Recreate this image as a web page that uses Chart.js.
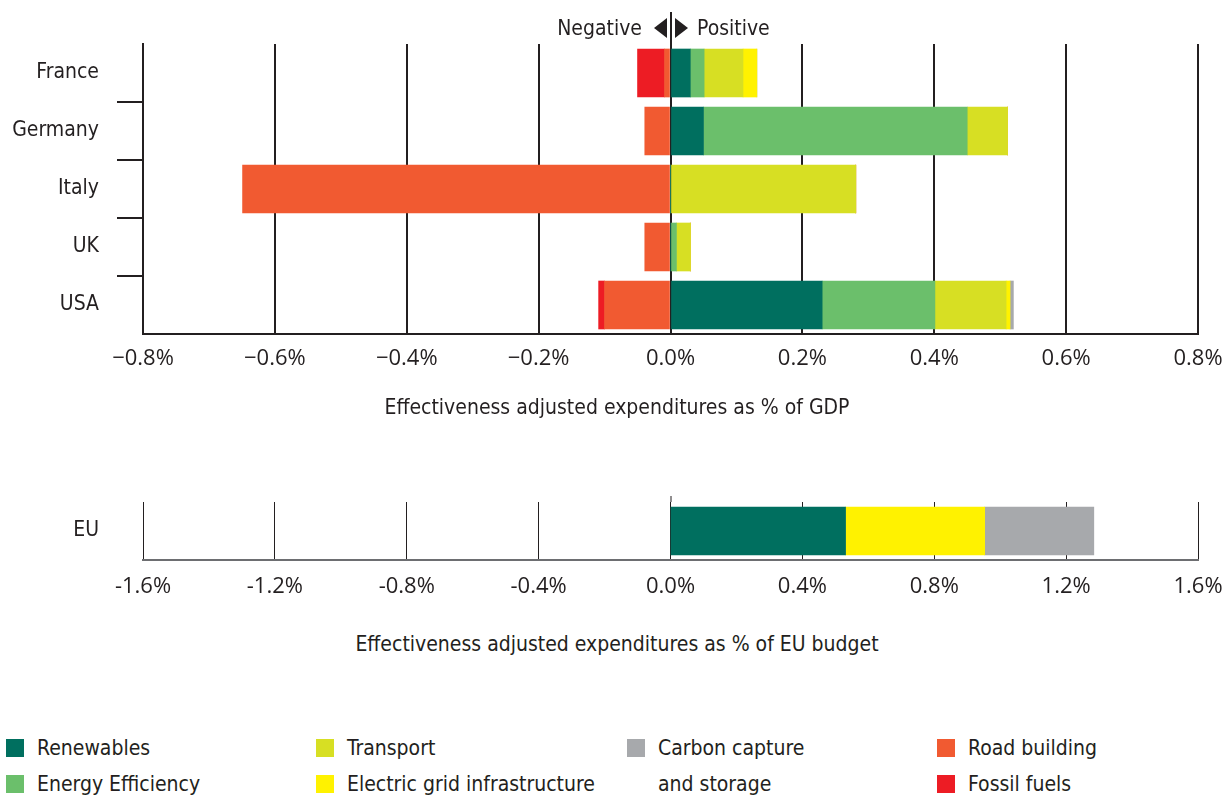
<!DOCTYPE html>
<html>
<head>
<meta charset="utf-8">
<script src="https://cdn.jsdelivr.net/npm/chart.js@4.4.0/dist/chart.umd.min.js"></script>
<style>
  body { margin: 0; width: 1224px; height: 796px; overflow: hidden; background: #fff; position: relative;
         font-family: "DejaVu Sans Condensed", "Liberation Sans Narrow", sans-serif; color: #231f20; }
  canvas { position: absolute; left: 0; }
  #topChart { top: 0; }
  #euChart { top: 470px; }
  .txt { position: absolute; font-size: 21px; white-space: nowrap; line-height: 24px; }
  .title { left: 0; width: 1234px; text-align: center; }
  .sw { position: absolute; width: 18px; height: 18px; }
</style>
</head>
<body>
<canvas id="topChart" width="1224" height="440"></canvas>
<canvas id="euChart" width="1224" height="160"></canvas>

<div class="txt" style="right:582px; top:16px;">Negative</div>
<div class="txt" style="left:697px; top:16px;">Positive</div>
<div class="txt title" style="top:395px;">Effectiveness adjusted expenditures as % of GDP</div>
<div class="txt title" style="top:632px;">Effectiveness adjusted expenditures as % of EU budget</div>

<div id="legend"></div>

<script>
// country chart (% of GDP)
const countries = ["France", "Germany", "Italy", "UK", "USA"];
const renewables = [0.030, 0.050, 0, 0, 0.230];
const efficiency = [0.021, 0.400, 0, 0.009, 0.171];
const transport = [0.059, 0.061, 0.281, 0.021, 0.108];
const gridInfra = [0.021, 0, 0, 0, 0.006];
const carbonCapture = [0, 0, 0, 0, 0.005];
const roadBuilding = [-0.009, -0.039, -0.649, -0.039, -0.100];
const fossilFuels = [-0.041, 0, 0, 0, -0.009];

// EU chart (% of EU budget)
const euLabels = ["EU"];
const euRenewables = [0.531];
const euGridInfra = [0.422];
const euCarbonCapture = [0.331];

const topTicks = { min: -0.8, max: 0.8, step: 0.2 };
const euTicks = { min: -1.6, max: 1.6, step: 0.4 };

const colors = {
  renewables: "#006f5f",
  efficiency: "#6bbf6b",
  transport: "#d7df23",
  grid: "#fff200",
  ccs: "#a7a9ac",
  road: "#f15a31",
  fossil: "#ed1c24",
};

const legendItems = [
  { text: "Renewables", color: colors.renewables, col: 0, row: 0 },
  { text: "Energy Efficiency", color: colors.efficiency, col: 0, row: 1 },
  { text: "Transport", color: colors.transport, col: 1, row: 0 },
  { text: "Electric grid infrastructure", color: colors.grid, col: 1, row: 1 },
  { text: "Carbon capture", color: colors.ccs, col: 2, row: 0 },
  { text: "and storage", color: null, col: 2, row: 1 },
  { text: "Road building", color: colors.road, col: 3, row: 0 },
  { text: "Fossil fuels", color: colors.fossil, col: 3, row: 1 },
];

const dark = "#231f20";
const labelFont = { family: "'DejaVu Sans Condensed', 'Liberation Sans Narrow', sans-serif", size: 21 };
const tickFont = { family: "'Open Sans', sans-serif", size: 22 };

// legend (html)
const legendEl = document.getElementById("legend");
const colX = [6, 316, 627, 937];
const rowY = [739, 775];
legendItems.forEach((it) => {
  if (it.color) {
    const sw = document.createElement("div");
    sw.className = "sw";
    sw.style.left = colX[it.col] + "px";
    sw.style.top = rowY[it.row] + "px";
    sw.style.background = it.color;
    legendEl.appendChild(sw);
  }
  const t = document.createElement("div");
  t.className = "txt";
  t.style.left = colX[it.col] + 31 + "px";
  t.style.top = rowY[it.row] - 3 + "px";
  t.textContent = it.text;
  legendEl.appendChild(t);
});

// zero line running up past the plot, with arrows in the top chart
const zeroLine = {
  id: "zeroLine",
  afterDraw(chart, args, opts) {
    const x = Math.round(chart.scales.x.getPixelForValue(0));
    const c = chart.ctx;
    c.save();
    c.strokeStyle = dark;
    c.lineWidth = opts.width;
    c.beginPath();
    c.moveTo(x, opts.from);
    c.lineTo(x, chart.chartArea.top);
    c.stroke();
    if (opts.arrows) {
      c.fillStyle = dark;
      c.beginPath();
      c.moveTo(x - 4, 18); c.lineTo(x - 4, 38); c.lineTo(x - 17, 28); c.closePath();
      c.fill();
      c.beginPath();
      c.moveTo(x + 4, 18); c.lineTo(x + 4, 38); c.lineTo(x + 17, 28); c.closePath();
      c.fill();
    }
    c.restore();
  },
};

function pct(minus) {
  return (v) => {
    const r = Math.round(v * 10) / 10;
    return (r < 0 ? minus : "") + Math.abs(r).toFixed(1) + "%";
  };
}

function bar(label, data, color) {
  return { label: label, data: data, backgroundColor: color, borderWidth: 0, barThickness: 48 };
}

function noPad(s) {
  s.paddingLeft = 0;
  s.paddingRight = 0;
  s.paddingTop = 0;
  s.paddingBottom = 0;
}

function buildTicks(t) {
  return (s) => {
    s.ticks = [];
    for (let v = t.min; v <= t.max + 1e-9; v += t.step) s.ticks.push({ value: Math.round(v * 10) / 10 });
  };
}

new Chart(document.getElementById("topChart"), {
  type: "bar",
  data: {
    labels: countries,
    datasets: [
      bar("Renewables", renewables, colors.renewables),
      bar("Energy Efficiency", efficiency, colors.efficiency),
      bar("Transport", transport, colors.transport),
      bar("Electric grid infrastructure", gridInfra, colors.grid),
      bar("Carbon capture and storage", carbonCapture, colors.ccs),
      bar("Road building", roadBuilding, colors.road),
      bar("Fossil fuels", fossilFuels, colors.fossil),
    ],
  },
  options: {
    indexAxis: "y",
    responsive: false,
    animation: false,
    layout: { padding: { top: 44, right: 26, left: 0, bottom: 0 } },
    plugins: {
      legend: { display: false },
      tooltip: { enabled: false },
      zeroLine: { from: 12, width: 2, arrows: true },
    },
    scales: {
      x: {
        stacked: true,
        min: topTicks.min,
        max: topTicks.max,
        afterFit: (s) => { s.height = 106; noPad(s); },
        afterBuildTicks: buildTicks(topTicks),
        ticks: { callback: pct("\u2212"), color: dark, font: tickFont, padding: 12, maxRotation: 0 },
        grid: { color: dark, lineWidth: 2, drawTicks: false },
        border: { display: true, color: dark, width: 2 },
      },
      y: {
        stacked: true,
        afterFit: (s) => { s.width = 143; noPad(s); },
        ticks: { color: dark, font: labelFont, padding: 18 },
        grid: {
          drawOnChartArea: false,
          drawTicks: true,
          tickLength: 26,
          lineWidth: 2,
          color: (ctx) => (ctx.type !== "tick" || ctx.index === 0 ? "rgba(0,0,0,0)" : dark),
        },
        border: { display: true, color: dark, width: 2 },
      },
    },
  },
  plugins: [zeroLine],
});

new Chart(document.getElementById("euChart"), {
  type: "bar",
  data: {
    labels: euLabels,
    datasets: [
      bar("Renewables", euRenewables, colors.renewables),
      bar("Electric grid infrastructure", euGridInfra, colors.grid),
      bar("Carbon capture and storage", euCarbonCapture, colors.ccs),
    ],
  },
  options: {
    indexAxis: "y",
    responsive: false,
    animation: false,
    layout: { padding: { top: 32, right: 26, left: 0, bottom: 0 } },
    plugins: {
      legend: { display: false },
      tooltip: { enabled: false },
      zeroLine: { from: 26, width: 1, arrows: false },
    },
    scales: {
      x: {
        stacked: true,
        min: euTicks.min,
        max: euTicks.max,
        afterFit: (s) => { s.height = 70; noPad(s); },
        afterBuildTicks: buildTicks(euTicks),
        ticks: { callback: pct("-"), color: dark, font: tickFont, padding: 14, maxRotation: 0 },
        grid: { color: dark, lineWidth: 1, drawTicks: false },
        border: { display: true, color: "#6d6e71", width: 2 },
      },
      y: {
        stacked: true,
        afterFit: (s) => { s.width = 143; noPad(s); },
        ticks: { color: dark, font: labelFont, padding: 36 },
        grid: { display: false },
        border: { display: false },
      },
    },
  },
  plugins: [zeroLine],
});
</script>
</body>
</html>
